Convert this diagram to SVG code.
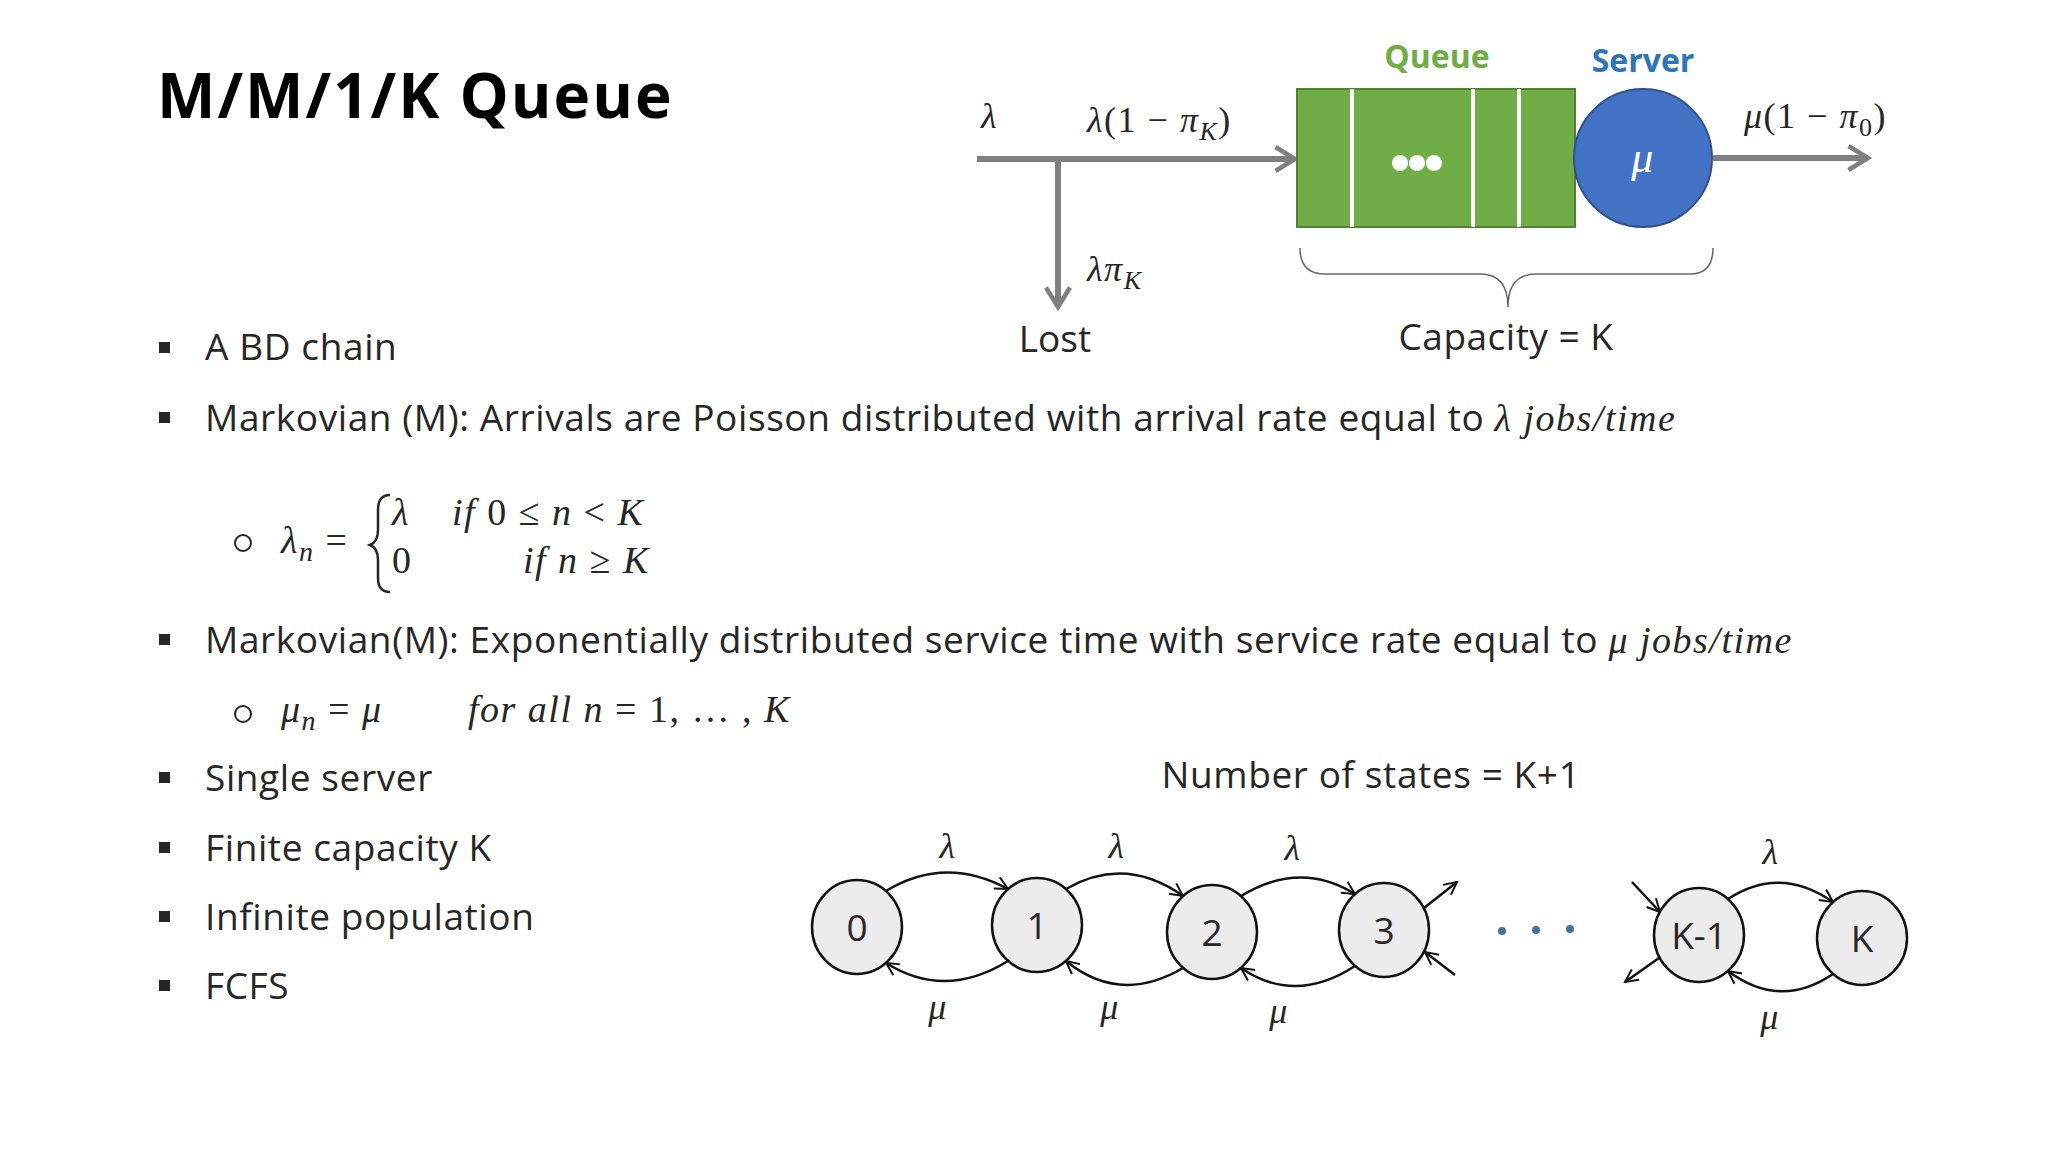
<svg xmlns="http://www.w3.org/2000/svg" width="2048" height="1152" viewBox="0 0 2048 1152">
<style>
.t{font-family:"Open Sans","Noto Sans",sans-serif;fill:#262626}
.m{font-family:"Liberation Serif","DejaVu Serif",serif;font-style:italic;fill:#262626;letter-spacing:1.5px}
.r{font-family:"Liberation Serif","DejaVu Serif",serif;fill:#262626}
.st{fill:#ececec;stroke:#111;stroke-width:2.5}
.ed{fill:none;stroke:#111;stroke-width:2.5;marker-end:url(#oa)}
.ga{fill:none;stroke:#7f7f7f;stroke-width:6;marker-end:url(#ga)}
</style>
<defs>
<marker id="oa" viewBox="0 0 20 20" refX="18" refY="10" markerWidth="16" markerHeight="16" markerUnits="userSpaceOnUse" orient="auto"><path d="M2,2 L18,10 L2,18" fill="none" stroke="#111" stroke-width="2.5"/></marker>
<marker id="ga" viewBox="0 0 20 20" refX="17" refY="10" markerWidth="30" markerHeight="30" markerUnits="userSpaceOnUse" orient="auto"><path d="M4,2 L17,10 L4,18" fill="none" stroke="#7f7f7f" stroke-width="3"/></marker>
</defs>
<rect width="2048" height="1152" fill="#fff"/>
<text class="t" x="157" y="118" font-size="62" font-weight="bold" fill="#000" letter-spacing="2" style="fill:#000">M/M/1/K Queue</text>

<g id="connectors">
<path class="ga" d="M977,159 H1295"/>
<path class="ga" d="M1058,159 V307"/>
<path class="ga" d="M1713,158 H1868"/>
<path d="M1300,248 Q1300,274 1325,274 H1480 Q1508,274 1508,307 Q1508,274 1536,274 H1690 Q1713,274 1713,248" fill="none" stroke="#666" stroke-width="1.5"/>
<path class="ed" d="M886,891 Q945,855 1008,889"/>
<path class="ed" d="M1066,889 Q1125,855 1183,896"/>
<path class="ed" d="M1241,896 Q1300,860 1355,894"/>
<path class="ed" d="M1728,899 Q1780,865 1833,902"/>
<path class="ed" d="M1008,961 Q945,1000 886,963"/>
<path class="ed" d="M1183,968 Q1120,1005 1066,961"/>
<path class="ed" d="M1355,966 Q1295,1005 1241,968"/>
<path class="ed" d="M1833,974 Q1780,1010 1728,971"/>
<path class="ed" d="M1424,908 L1457,882"/>
<path class="ed" d="M1455,975 L1425,952"/>
<path class="ed" d="M1632,882 L1660,912"/>
<path class="ed" d="M1659,958 L1625,982"/>
</g>

<g id="queue">
<rect x="1297" y="89" width="278" height="138" fill="#70ad47" stroke="#548235" stroke-width="2"/>
<path d="M1352,89 V227 M1473,89 V227 M1519,89 V227" stroke="#fff" stroke-width="4"/>
<circle cx="1400" cy="163" r="8" fill="#fff"/><circle cx="1417" cy="163" r="8" fill="#fff"/><circle cx="1434" cy="163" r="8" fill="#fff"/>
<text class="t" x="1437" y="68" font-size="32" font-weight="bold" text-anchor="middle" style="fill:#70ad47">Queue</text>
</g>
<g id="server">
<circle cx="1643" cy="158" r="69" fill="#4472c4" stroke="#2f528f" stroke-width="2"/>
<text class="m" x="1643" y="172" font-size="44" text-anchor="middle" style="fill:#fff">μ</text>
<text class="t" x="1643" y="72" font-size="32" font-weight="bold" text-anchor="middle" style="fill:#2e75b6">Server</text>
</g>
<g id="labels-top">
<text class="m" x="981" y="128" font-size="36">λ</text>
<text class="m" x="1087" y="132" font-size="36">λ<tspan font-style="normal">(1 − </tspan>π<tspan font-size="26" dy="8">K</tspan><tspan font-style="normal" dy="-8">)</tspan></text>
<text class="m" x="1744" y="128" font-size="36">μ<tspan font-style="normal">(1 − </tspan>π<tspan font-size="26" dy="8" font-style="normal">0</tspan><tspan font-style="normal" dy="-8">)</tspan></text>
<text class="m" x="1087" y="281" font-size="36">λπ<tspan font-size="26" dy="8">K</tspan></text>
<text class="t" x="1055" y="352" font-size="37" text-anchor="middle">Lost</text>
<text class="t" x="1506" y="350" font-size="37" text-anchor="middle" letter-spacing="0.5">Capacity = K</text>
</g>

<g id="bullets" class="t" font-size="37" letter-spacing="0.6">
<rect x="159" y="342" width="11" height="11" fill="#262626"/><text x="205" y="360">A BD chain</text>
<rect x="159" y="412" width="11" height="11" fill="#262626"/><text x="205" y="431">Markovian (M): Arrivals are Poisson distributed with arrival rate equal to <tspan class="m" font-size="38">λ jobs/time</tspan></text>
<rect x="159" y="634" width="11" height="11" fill="#262626"/><text x="205" y="653">Markovian(M): Exponentially distributed service time with service rate equal to <tspan class="m" font-size="38">μ jobs/time</tspan></text>
<rect x="159" y="772" width="11" height="11" fill="#262626"/><text x="205" y="791">Single server</text>
<rect x="159" y="842" width="11" height="11" fill="#262626"/><text x="205" y="861">Finite capacity K</text>
<rect x="159" y="911" width="11" height="11" fill="#262626"/><text x="205" y="930">Infinite population</text>
<rect x="159" y="980" width="11" height="11" fill="#262626"/><text x="205" y="999">FCFS</text>
</g>
<g id="formulas">
<circle cx="243" cy="543" r="8" fill="none" stroke="#262626" stroke-width="2"/>
<text class="m" x="281" y="553" font-size="38">λ<tspan font-size="28" dy="8">n</tspan><tspan font-style="normal" dy="-8"> =</tspan></text>
<path d="M390,495 Q378,495 378,510 V530 Q378,542 370,545 Q378,548 378,560 V578 Q378,592 390,592" fill="none" stroke="#262626" stroke-width="2.5"/>
<text class="m" x="392" y="525" font-size="38">λ</text>
<text class="m" x="452" y="525" font-size="38">if <tspan font-style="normal">0 ≤ </tspan>n <tspan font-style="normal">&lt;</tspan> K</text>
<text class="r" x="392" y="573" font-size="38">0</text>
<text class="m" x="523" y="573" font-size="38">if n <tspan font-style="normal">≥</tspan> K</text>
<circle cx="243" cy="714" r="8" fill="none" stroke="#262626" stroke-width="2"/>
<text class="m" x="281" y="722" font-size="38">μ<tspan font-size="28" dy="8">n</tspan><tspan font-style="normal" dy="-8"> = </tspan>μ</text>
<text class="m" x="468" y="722" font-size="38">for all n <tspan font-style="normal">= 1, … ,</tspan> K</text>
</g>

<text class="t" x="1371" y="788" font-size="37" text-anchor="middle" letter-spacing="0.6">Number of states = K+1</text>

<g id="s0"><ellipse class="st" cx="857" cy="927" rx="45" ry="47"/><text class="t" x="857" y="941" font-size="37" text-anchor="middle">0</text></g>
<g id="s1"><ellipse class="st" cx="1037" cy="925" rx="45" ry="47"/><text class="t" x="1037" y="939" font-size="37" text-anchor="middle">1</text></g>
<g id="s2"><ellipse class="st" cx="1212" cy="932" rx="45" ry="47"/><text class="t" x="1212" y="946" font-size="37" text-anchor="middle">2</text></g>
<g id="s3"><ellipse class="st" cx="1384" cy="930" rx="45" ry="47"/><text class="t" x="1384" y="944" font-size="37" text-anchor="middle">3</text></g>
<g id="sK1"><ellipse class="st" cx="1699" cy="935" rx="45" ry="47"/><text class="t" x="1699" y="949" font-size="37" text-anchor="middle">K-1</text></g>
<g id="sK"><ellipse class="st" cx="1862" cy="938" rx="45" ry="47"/><text class="t" x="1862" y="952" font-size="37" text-anchor="middle">K</text></g>
<circle cx="1502" cy="931" r="4" fill="#41719c"/><circle cx="1536" cy="930" r="4" fill="#41719c"/><circle cx="1570" cy="929" r="4" fill="#41719c"/>
<g class="m" font-size="36" text-anchor="middle">
<text x="948" y="858">λ</text><text x="1117" y="858">λ</text><text x="1293" y="860">λ</text><text x="1771" y="864">λ</text>
<text x="938" y="1019">μ</text><text x="1110" y="1019">μ</text><text x="1279" y="1023">μ</text><text x="1770" y="1029">μ</text>
</g>
</svg>
